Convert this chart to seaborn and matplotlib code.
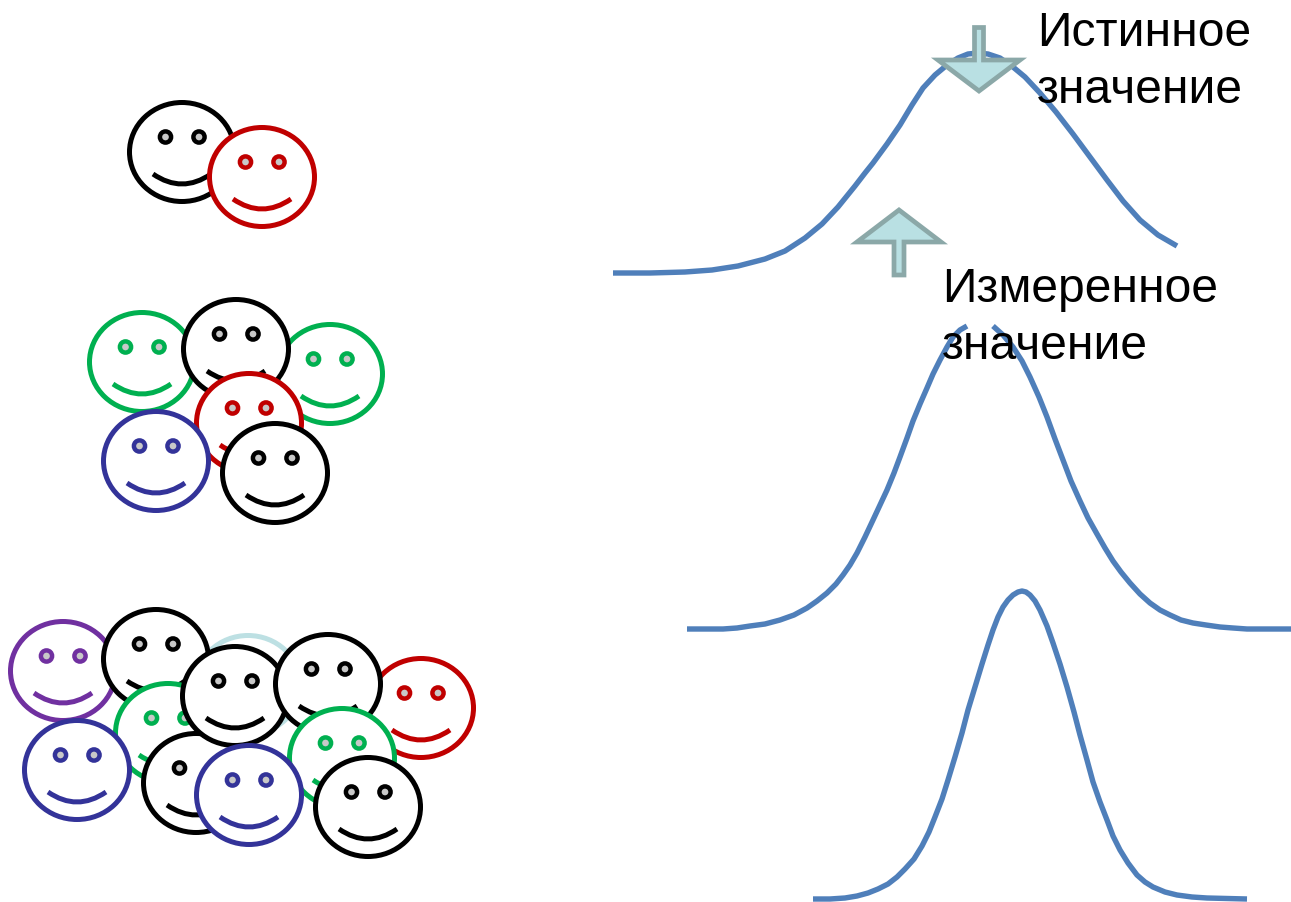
import matplotlib
matplotlib.use("Agg")
import matplotlib.pyplot as plt
import seaborn as sns
from matplotlib.patches import Ellipse, Circle, PathPatch, Polygon
from matplotlib.path import Path

# Faces, in painting order (back to front)
face_x = [182, 262,
          142, 330, 236, 249, 156, 275,
          63, 248, 156, 421, 168, 196, 235, 328, 342, 77, 249, 368]
face_y = [152, 177,
          362, 374, 349, 423, 461, 473,
          671, 685, 659, 708, 733, 783, 696, 684, 758, 770, 795, 807]
face_colors = ["black", "red",
               "green", "green", "black", "red", "blue", "black",
               "purple", "pale", "black", "red", "green", "black", "black",
               "black", "green", "blue", "blue", "black"]

palette = {"black": "#000000", "red": "#c00000", "green": "#00b050",
           "blue": "#333399", "purple": "#7030a0", "pale": "#bde0e3"}

# Bell curves
c1_x = [613, 650, 685, 712, 738, 765, 785, 805, 822, 838, 855, 865, 873, 887, 900, 912, 923, 935, 947,
        958, 968, 978, 988, 1000, 1013, 1025, 1040, 1056, 1073, 1090, 1107, 1123, 1140, 1158, 1177]
c1_y = [273, 273, 272, 270, 266, 259, 251, 238, 224, 207, 186, 173, 163, 144, 125, 105, 88, 75, 65,
        58, 54, 53, 54, 58, 67, 77, 93, 112, 134, 157, 180, 201, 220, 235, 246]

c2a_x = [687, 705, 723, 737, 750, 765, 780, 794, 807, 817, 827, 836, 843, 850, 857, 865, 873, 880,
         887, 894, 900, 907, 913, 920, 927, 933, 940, 947, 953, 960, 967]
c2a_y = [629, 629, 629, 628, 626, 624, 620, 615, 608, 601, 593, 584, 575, 565, 553, 537, 520, 505,
         490, 473, 457, 438, 421, 404, 388, 374, 360, 347, 337, 330, 326]
c2b_x = [993, 1003, 1013, 1022, 1030, 1039, 1047, 1055, 1063, 1071, 1080, 1088, 1097, 1105, 1113,
         1121, 1130, 1140, 1150, 1160, 1170, 1181, 1193, 1206, 1220, 1233, 1247, 1270, 1291]
c2b_y = [326, 335, 347, 361, 377, 397, 417, 439, 460, 481, 501, 518, 534, 548, 561,
         572, 583, 594, 603, 610, 615, 620, 623, 625, 627, 628, 629, 629, 629]

c3_x = [813, 830, 845, 857, 868, 878, 888, 897, 905, 914, 922, 929, 935, 942, 948, 955, 962, 968,
        975, 982, 988, 993, 998, 1003, 1008, 1013, 1018, 1022, 1026, 1030, 1035, 1040, 1047, 1053,
        1060, 1067, 1074, 1080, 1087, 1093, 1100, 1107, 1113, 1120, 1128, 1137, 1145, 1153, 1165,
        1177, 1192, 1207, 1247]
c3_y = [899, 899, 898, 896, 893, 889, 884, 877, 869, 859, 846, 832, 817, 799, 780, 757, 733, 710,
        687, 664, 645, 630, 617, 607, 600, 595, 592, 591, 592, 595, 601, 610, 626, 643,
        664, 687, 712, 735, 760, 782, 802, 820, 836, 850, 863, 875, 882, 887, 892,
        895, 897, 898, 899]

labels = ["Истинное", "значение", "Измеренное", "значение"]
label_x = [1037, 1037, 942, 942]
label_y = [46, 103, 302, 359]

sns.set_theme(style="white")
plt.rcParams["font.family"] = ["Liberation Sans", "DejaVu Sans"]

fig = plt.figure(figsize=(12.91, 9.02), dpi=100, facecolor="white")
ax = fig.add_axes([0, 0, 1, 1])

curve_color = "#4f7fba"
for xs, ys in [(c1_x, c1_y), (c2a_x, c2a_y), (c2b_x, c2b_y), (c3_x, c3_y)]:
    sns.lineplot(x=xs, y=ys, ax=ax, color=curve_color, lw=3.9, sort=False, estimator=None,
                 legend=False, zorder=1, solid_capstyle="butt", solid_joinstyle="round")
ax.set_xlim(0, 1291)
ax.set_ylim(902, 0)
ax.axis("off")

lw = 3.6
z = 2
for cx, cy, name in zip(face_x, face_y, face_colors):
    col = palette[name]
    ax.add_patch(Ellipse((cx, cy), 105, 99, facecolor="white", edgecolor=col, lw=lw, zorder=z))
    for dx in (-16.5, 17):
        ax.add_patch(Circle((cx + dx, cy - 15), 5.6, facecolor="#c8c8c8", edgecolor=col, lw=3.2, zorder=z))
    smile = Path([(cx - 29, cy + 22), (cx, cy + 42), (cx + 29, cy + 22)],
                 [Path.MOVETO, Path.CURVE3, Path.CURVE3])
    ax.add_patch(PathPatch(smile, facecolor="none", edgecolor=col, lw=lw, zorder=z, capstyle="butt"))
    z += 1

arrow_edge = "#8ba8a8"
arrow_fill = "#b9e0e3"
down = [(974.5, 27.5), (983.5, 27.5), (983.5, 60), (1020, 60), (979, 91), (938, 60), (974.5, 60)]
up = [(894, 275), (904, 275), (904, 242), (941, 242), (899, 210), (857, 242), (894, 242)]
for pts in (down, up):
    ax.add_patch(Polygon(pts, closed=True, facecolor=arrow_fill, edgecolor=arrow_edge,
                         lw=3.4, zorder=z, joinstyle="miter"))

for s, x, y in zip(labels, label_x, label_y):
    ax.text(x, y, s, fontsize=34.6, color="black", ha="left", va="baseline", zorder=z + 1)

fig.savefig("out.png", dpi=100, facecolor="white")
